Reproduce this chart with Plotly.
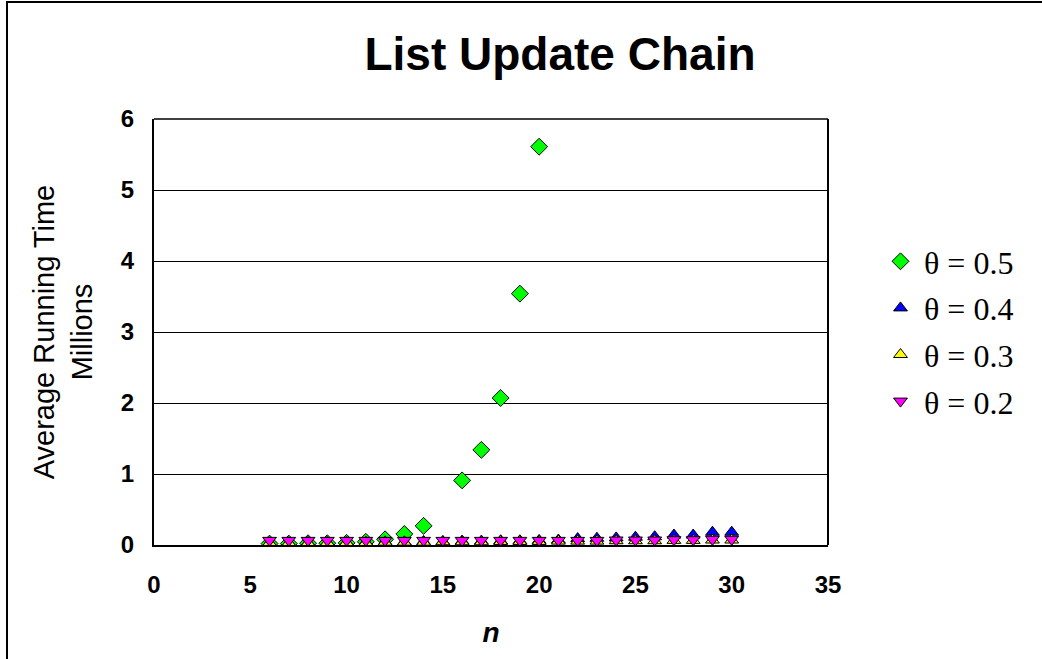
import plotly.graph_objects as go

# data
n_05 = [6, 7, 8, 9, 10, 11, 12, 13, 14, 16, 17, 18, 19, 20]
t_05 = [0.02, 0.02, 0.025, 0.025, 0.03, 0.045, 0.08, 0.155, 0.27, 0.91, 1.34, 2.07, 3.54, 5.61]

n_all = list(range(6, 31))
t_04 = [0.03, 0.03, 0.035, 0.035, 0.04, 0.04, 0.045, 0.045, 0.05, 0.05, 0.055, 0.055, 0.06,
        0.06, 0.065, 0.07, 0.09, 0.095, 0.1, 0.11, 0.117, 0.14, 0.14, 0.18, 0.18]
t_03 = [0.03, 0.03, 0.03, 0.035, 0.035, 0.035, 0.04, 0.04, 0.04, 0.045, 0.045, 0.045, 0.05,
        0.05, 0.05, 0.055, 0.055, 0.055, 0.06, 0.06, 0.06, 0.065, 0.065, 0.07, 0.07]
t_02 = [0.065, 0.065, 0.065, 0.065, 0.065, 0.065, 0.065, 0.065, 0.065, 0.065, 0.065, 0.065, 0.065,
        0.065, 0.065, 0.065, 0.065, 0.065, 0.07, 0.07, 0.07, 0.075, 0.075, 0.08, 0.08]

series = [
    ("θ = 0.5", n_05, t_05, "diamond", "#00FF00", 13),
    ("θ = 0.4", n_all, t_04, "triangle-up", "#0000FF", 12),
    ("θ = 0.3", n_all, t_03, "triangle-up", "#FFFF00", 12),
    ("θ = 0.2", n_all, t_02, "triangle-down", "#FF00FF", 12),
]

fig = go.Figure()
for i, (name, xs, ys, sym, col, sz) in enumerate(series):
    fig.add_trace(go.Scatter(
        x=xs, y=ys, mode="markers", name=name, legendgroup=f"g{i}",
        marker=dict(symbol=sym, color=col, size=sz, line=dict(color="black", width=1)),
    ))

W, H = 1042, 659
L, R, T, B = 154, 214, 119, 114
pw, ph = W - L - R, H - T - B

fig.update_layout(
    width=W, height=H,
    margin=dict(l=L, r=R, t=T, b=B),
    paper_bgcolor="white", plot_bgcolor="white",
    title=dict(text="<b>List Update Chain</b>", x=560 / W, xanchor="center", xref="container",
               y=1 - 54 / H, yanchor="middle", yref="container",
               font=dict(family="Liberation Sans, Arial", size=46, color="black")),
    font=dict(family="Liberation Sans, Arial", color="black"),
    legend=dict(x=(877 - L) / pw, y=(H - B - 234) / ph, xanchor="left", yanchor="top",
                font=dict(family="Liberation Serif, Times New Roman", size=32, color="black"),
                traceorder="grouped", tracegroupgap=2, bgcolor="rgba(0,0,0,0)",
                itemwidth=37),
    showlegend=True,
)

fig.update_xaxes(range=[0, 35], tickvals=[0, 5, 10, 15, 20, 25, 30, 35],
                 showgrid=False, zeroline=False, showline=True, linecolor="black", linewidth=2,
                 mirror=False, ticks="", ticklabelstandoff=17,
                 tickfont=dict(family="Liberation Sans, Arial", size=24, color="black", weight="bold"),
                 title=dict(text="<b><i>n</i></b>", standoff=26,
                            font=dict(family="Liberation Sans, Arial", size=28, color="black")))
fig.update_yaxes(range=[0, 6], tickvals=[0, 1, 2, 3, 4, 5, 6],
                 showgrid=True, gridcolor="black", gridwidth=1, zeroline=False,
                 showline=True, linecolor="black", linewidth=2, ticks="", ticklabelstandoff=13,
                 tickfont=dict(family="Liberation Sans, Arial", size=24, color="black", weight="bold"),
                 title=dict(text="Average Running Time<br>Millions", standoff=20,
                            font=dict(family="Liberation Sans, Arial", size=29, color="black")))

# plot area border (top/right) and outer chart border
fig.add_shape(type="line", xref="paper", yref="paper", x0=0, x1=1, y0=1, y1=1,
              line=dict(color="#404040", width=2), layer="above")
fig.add_shape(type="line", xref="paper", yref="paper", x0=1, x1=1, y0=0, y1=1,
              line=dict(color="black", width=2), layer="above")
fig.add_shape(type="rect", xref="paper", yref="paper",
              x0=(7 - L) / pw, x1=2.0, y0=-1.0, y1=(H - B - 2) / ph,
              line=dict(color="black", width=2), fillcolor="rgba(0,0,0,0)", layer="below")

fig.write_html("out.html", config={"displayModeBar": False},
               post_script="document.body.style.margin='0';")
